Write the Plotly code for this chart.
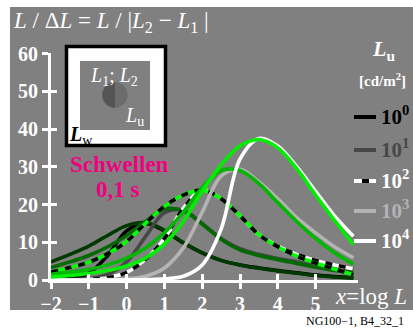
import plotly.graph_objects as go

# log luminance grid, x = log L
x_log = [-2, -1.5, -1, -0.5, 0, 0.5, 1, 1.5, 2, 2.5, 3, 3.5, 4, 4.5, 5, 5.5, 6]

# threshold ratios L/dL, grey-scale series per surround luminance Lu
grey_1e0 = [0.1, 0.4, 1.8, 6.5, 13.0, 15.0, 13.0, 9.8, 7.2, 5.2, 4.0, 3.2, 2.5, 1.9, 1.3, 0.9, 0.6]
grey_1e1 = [0.0, 0.1, 0.4, 1.5, 4.8, 11.5, 17.8, 18.5, 15.0, 11.0, 8.3, 6.8, 5.7, 4.8, 3.8, 3.0, 2.3]
grey_1e2 = [0.0, 0.0, 0.2, 0.6, 2.0, 5.5, 11.0, 19.0, 23.8, 21.5, 17.0, 12.0, 9.0, 6.8, 5.2, 4.0, 3.0]
grey_1e3 = [0.0, 0.0, 0.0, 0.1, 0.3, 1.0, 3.2, 8.5, 18.0, 27.5, 29.3, 26.0, 21.5, 16.5, 12.5, 8.8, 5.9]
grey_1e4 = [0.0, 0.0, 0.0, 0.0, 0.0, 0.1, 0.3, 1.0, 4.0, 13.5, 32.0, 37.5, 35.5, 30.0, 23.5, 17.0, 11.6]

# green series per surround luminance Lu
green_1e0 = [4.8, 6.8, 9.0, 11.8, 14.4, 15.2, 13.2, 9.9, 7.2, 5.2, 4.0, 3.1, 2.4, 1.8, 1.2, 0.8, 0.5]
green_1e1 = [3.3, 4.8, 6.5, 8.8, 11.8, 15.5, 18.8, 18.3, 14.8, 10.8, 8.0, 6.5, 5.4, 4.4, 3.4, 2.5, 1.8]
green_1e2 = [2.1, 3.3, 4.7, 7.0, 10.2, 15.0, 19.5, 22.5, 23.8, 21.5, 17.0, 12.0, 8.8, 6.3, 4.5, 2.9, 1.4]
green_1e3 = [1.5, 2.1, 2.8, 4.0, 5.8, 8.5, 12.5, 18.0, 24.5, 29.0, 29.0, 25.5, 20.5, 15.5, 11.0, 7.2, 4.2]
green_1e4 = [0.8, 1.2, 1.7, 2.5, 3.7, 5.8, 9.5, 15.5, 23.5, 30.5, 35.5, 37.2, 35.0, 29.5, 22.5, 15.8, 9.4]

lu_labels = ["10<sup>0</sup>", "10<sup>1</sup>", "10<sup>2</sup>", "10<sup>3</sup>", "10<sup>4</sup>"]
x_ticks = [-2, -1, 0, 1, 2, 3, 4, 5]
y_ticks = [0, 10, 20, 30, 40, 50, 60]

grey_series = [grey_1e0, grey_1e1, grey_1e2, grey_1e3, grey_1e4]
green_series = [green_1e0, green_1e1, green_1e2, green_1e3, green_1e4]
grey_cols = ["#000000", "#474747", "#ffffff", "#b4b4b4", "#ffffff"]
green_cols = ["#003a00", "#006a00", "#00ff00", "#00b800", "#00ee00"]
legend_txt_cols = ["#000000", "#474747", "#ffffff", "#b4b4b4", "#ffffff"]
DASHED = 2

SERIF = "Liberation Serif, Times New Roman, serif"
W, H = 413, 328
ML, MR, MT, MB = 51, 55, 53, 48
PW, PH = W - ML - MR, H - MT - MB
X_RANGE = [-2, -2 + PW / 37.8]
Y_RANGE = [0, PH / 3.775]


def px(xp):
    return (xp - ML) / PW


def py(yp):
    return (H - MB - yp) / PH


fig = go.Figure()

LW = 3.6
for i in range(5):
    for ys, col in ((grey_series[i], grey_cols[i]), (green_series[i], green_cols[i])):
        fig.add_trace(go.Scatter(x=x_log, y=ys, mode="lines",
                                 line=dict(color=col, width=LW, shape="spline", smoothing=1),
                                 hoverinfo="skip", showlegend=False))
        if i == DASHED:
            fig.add_trace(go.Scatter(x=x_log, y=ys, mode="lines",
                                     line=dict(color="#000000", width=LW, shape="spline",
                                               smoothing=1, dash="7px,7px"),
                                     hoverinfo="skip", showlegend=False))

# companion axes carry the inner half of the crossing tick marks
fig.add_trace(go.Scatter(x=[None], y=[None], xaxis="x2", yaxis="y2",
                         showlegend=False, hoverinfo="skip"))

axis_common = dict(showgrid=False, zeroline=False, showline=True, linecolor="white",
                   linewidth=3, tickcolor="white", tickwidth=3, ticklen=6)
tick_font = dict(family=SERIF, size=20, color="white", weight="bold")
fig.update_layout(
    width=W, height=H,
    margin=dict(l=ML, r=MR, t=MT, b=MB, pad=0),
    paper_bgcolor="white", plot_bgcolor="rgba(0,0,0,0)",
    xaxis=dict(range=X_RANGE, tickvals=x_ticks,
               ticktext=[str(v).replace("-", "\u2212") for v in x_ticks],
               ticks="outside", tickfont=tick_font, ticklabelstandoff=-2, **axis_common),
    yaxis=dict(range=Y_RANGE, tickvals=y_ticks, ticks="outside",
               tickfont=tick_font, **axis_common),
    xaxis2=dict(range=X_RANGE, tickvals=x_ticks, ticks="inside", showticklabels=False,
                overlaying="x", anchor="y2", **axis_common),
    yaxis2=dict(range=Y_RANGE, tickvals=y_ticks, ticks="inside", showticklabels=False,
                overlaying="y", anchor="x2", **axis_common),
    showlegend=False,
)

shapes = []
# grey panel behind the chart
shapes.append(dict(type="rect", xref="paper", yref="paper", layer="below",
                   x0=px(10), x1=px(413), y0=py(310), y1=py(7),
                   fillcolor="#808080", line=dict(width=0)))

# inset: surround field with test field and split disc
shapes.append(dict(type="rect", xref="paper", yref="paper",
                   x0=px(66.5), x1=px(165.5), y0=py(145.5), y1=py(46.5),
                   fillcolor="white", line=dict(color="black", width=3.5)))
shapes.append(dict(type="rect", xref="paper", yref="paper",
                   x0=px(80), x1=px(150), y0=py(130), y1=py(61),
                   fillcolor="#808080", line=dict(width=0)))
cx, cy, r = 115, 95, 12.7
shapes.append(dict(type="circle", xref="paper", yref="paper",
                   x0=px(cx - r), x1=px(cx + r), y0=py(cy + r), y1=py(cy - r),
                   fillcolor="#6c6c6c", line=dict(width=0)))
k = 0.5523 * r
half = (f"M {px(cx)},{py(cy - r)} "
        f"C {px(cx - k)},{py(cy - r)} {px(cx - r)},{py(cy - k)} {px(cx - r)},{py(cy)} "
        f"C {px(cx - r)},{py(cy + k)} {px(cx - k)},{py(cy + r)} {px(cx)},{py(cy + r)} Z")
shapes.append(dict(type="path", xref="paper", yref="paper", path=half,
                   fillcolor="#555555", line=dict(width=0)))

# legend samples
leg_y = [117, 150, 181, 211, 241]
for i in range(5):
    shapes.append(dict(type="line", xref="paper", yref="paper",
                       x0=px(354), x1=px(376), y0=py(leg_y[i]), y1=py(leg_y[i]),
                       line=dict(color=grey_cols[i], width=4)))
    if i == DASHED:
        shapes.append(dict(type="line", xref="paper", yref="paper",
                           x0=px(362), x1=px(369), y0=py(leg_y[i]), y1=py(leg_y[i]),
                           line=dict(color="black", width=4)))
fig.update_layout(shapes=shapes)

ann = []


def text(xp, yp, s, size, color="white", anchor="center", bold=False):
    ann.append(dict(xref="paper", yref="paper", x=px(xp), y=py(yp), text=s, showarrow=False,
                    xanchor=anchor, yanchor="middle",
                    font=dict(family=SERIF, size=size, color=color,
                              weight="bold" if bold else "normal")))


text(11, 22, "<i>L</i> / Δ<i>L</i> = <i>L</i> / |<i>L</i><sub>2</sub> − <i>L</i><sub>1</sub> |",
     23, anchor="left")
text(114, 76, "<i>L</i><sub>1</sub>; <i>L</i><sub>2</sub>", 20)
text(134, 116, "<i>L</i><sub>u</sub>", 20)
text(81, 135, "<b><i>L</i></b><sub>w</sub>", 20, color="black")
text(119, 164, "Schwellen", 23, color="#f0007f", bold=True)
text(118, 189, "0,1 s", 23, color="#f0007f", bold=True)
text(383, 50, "<i>L</i><sub>u</sub>", 22, bold=True)
text(382, 80, "[cd/m<sup>2</sup>]", 15, bold=True)
for i in range(5):
    text(379, leg_y[i] - 2, lu_labels[i], 21, color=legend_txt_cols[i], anchor="left", bold=True)
text(371, 296, "<i>x</i>=log <i>L</i>", 23)
text(406, 321, "NG100−1, B4_32_1", 12, color="black", anchor="right")
fig.update_layout(annotations=ann)

fig.write_html("out.html")
